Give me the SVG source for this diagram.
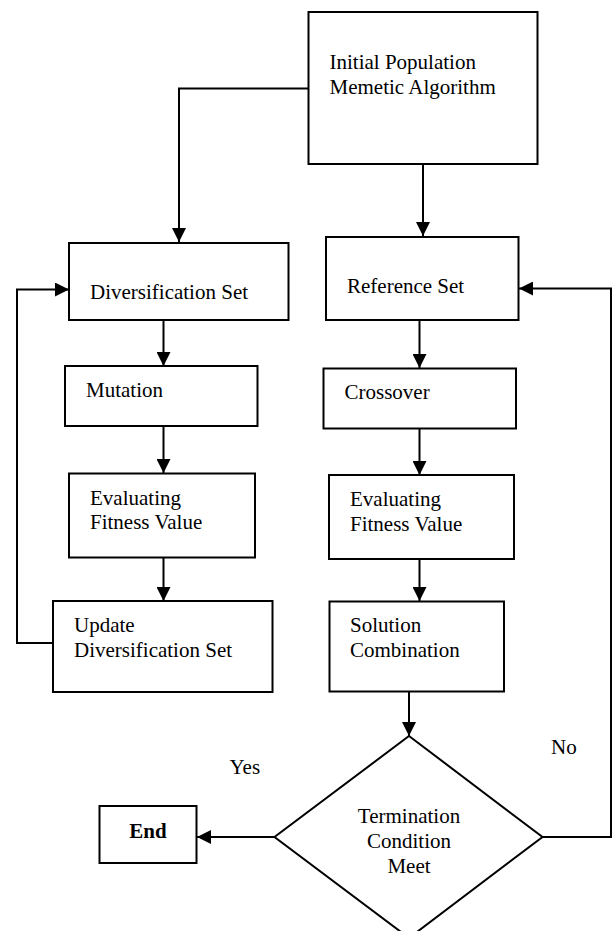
<svg xmlns="http://www.w3.org/2000/svg" width="613" height="931" viewBox="0 0 613 931">
<style>
  .box { fill: #ffffff; stroke: #000000; stroke-width: 2; }
  .lbl { font-family: "Liberation Serif", "Times New Roman", serif; font-size: 21px; fill: #000000; }
  .c { text-anchor: middle; }
  .b { font-weight: bold; }
  .conn { fill: none; stroke: #000000; stroke-width: 2; }
  .arr { marker-end: url(#ah); }
</style>
<defs>
  <marker id="ah" markerUnits="userSpaceOnUse" markerWidth="14" markerHeight="14" refX="14" refY="7" orient="auto">
    <path d="M0,0 L14,7 L0,14 z" fill="#000000"/>
  </marker>
</defs>
<rect width="613" height="931" fill="#ffffff"/>

<g id="connectors">
  <path class="conn arr" d="M308.5,88.5 H179 V242"/>
  <path class="conn arr" d="M423,164 V236"/>
  <path class="conn arr" d="M163.5,320 V366"/>
  <path class="conn arr" d="M419.5,320 V368"/>
  <path class="conn arr" d="M163.5,426 V473"/>
  <path class="conn arr" d="M419.5,428 V475"/>
  <path class="conn arr" d="M163.5,558 V601"/>
  <path class="conn arr" d="M419.5,559 V601"/>
  <path class="conn arr" d="M409,692 V736"/>
  <path class="conn arr" d="M53,643 H17 V289.5 H69"/>
  <path class="conn arr" d="M542.5,837 H611 V288.5 H519"/>
  <path class="conn arr" d="M274.5,837 H197"/>
</g>

<g id="initial">
  <rect class="box" x="308.5" y="12" width="229" height="152"/>
  <text class="lbl" x="329.5" y="68.5">Initial Population</text>
  <text class="lbl" x="329.5" y="93.5">Memetic Algorithm</text>
</g>

<g id="diversification">
  <rect class="box" x="69" y="243" width="219.5" height="77"/>
  <text class="lbl" x="90" y="298.5">Diversification Set</text>
</g>

<g id="reference">
  <rect class="box" x="326" y="237" width="192.5" height="83"/>
  <text class="lbl" x="347" y="293">Reference Set</text>
</g>

<g id="mutation">
  <rect class="box" x="65" y="366" width="192.5" height="60"/>
  <text class="lbl" x="86" y="397">Mutation</text>
</g>

<g id="crossover">
  <rect class="box" x="323.5" y="368.5" width="192.5" height="60"/>
  <text class="lbl" x="344.5" y="399">Crossover</text>
</g>

<g id="evaluating-left">
  <rect class="box" x="69" y="473.5" width="186" height="84"/>
  <text class="lbl" x="90" y="504.5">Evaluating</text>
  <text class="lbl" x="90" y="529">Fitness Value</text>
</g>

<g id="evaluating-right">
  <rect class="box" x="329" y="475" width="185" height="84"/>
  <text class="lbl" x="350" y="505.5">Evaluating</text>
  <text class="lbl" x="350" y="530.5">Fitness Value</text>
</g>

<g id="update">
  <rect class="box" x="53" y="601" width="219.5" height="91"/>
  <text class="lbl" x="74" y="632">Update</text>
  <text class="lbl" x="74" y="657">Diversification Set</text>
</g>

<g id="solution">
  <rect class="box" x="329.5" y="601.5" width="174.5" height="90"/>
  <text class="lbl" x="350" y="632">Solution</text>
  <text class="lbl" x="350" y="657">Combination</text>
</g>

<g id="termination">
  <polygon class="box" points="409,736 542.5,837 409,938 274.5,837"/>
  <text class="lbl c" x="409" y="823">Termination</text>
  <text class="lbl c" x="409" y="848">Condition</text>
  <text class="lbl c" x="409" y="872.5">Meet</text>
</g>

<g id="end">
  <rect class="box" x="99.5" y="806" width="97" height="57"/>
  <text class="lbl c b" x="148" y="838">End</text>
</g>

<g id="labels">
  <text class="lbl" x="229.5" y="773.5">Yes</text>
  <text class="lbl" x="551" y="754">No</text>
</g>
</svg>
